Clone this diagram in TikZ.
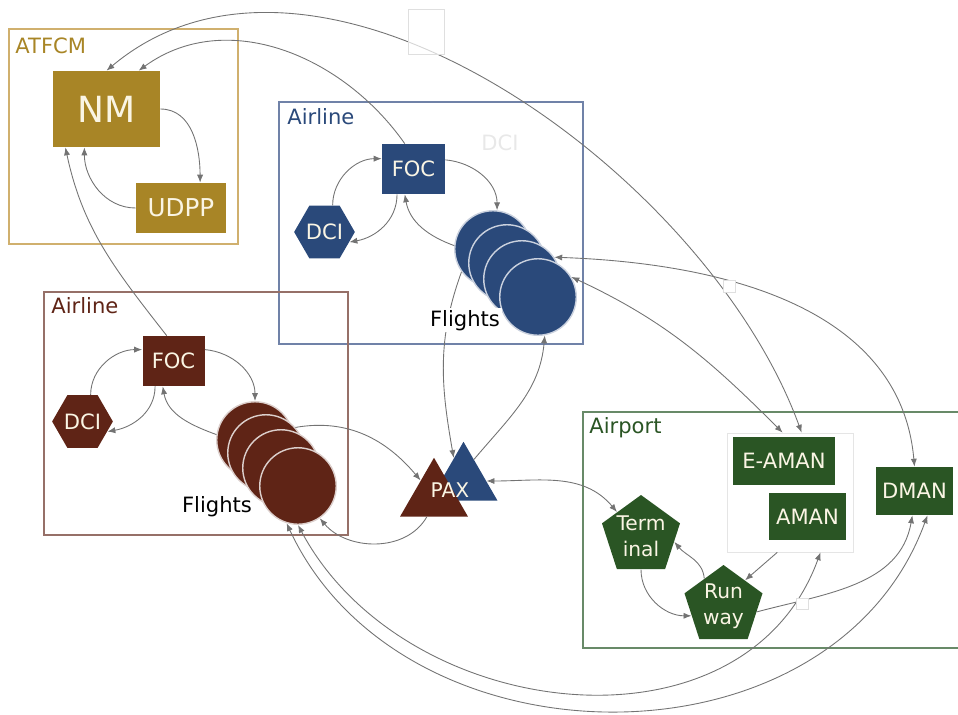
\documentclass[tikz,border=0pt]{standalone}
\usepackage{fontspec}
\setmainfont{DejaVu Sans}
\usepackage{tikz}
\usetikzlibrary{arrows.meta,shapes.geometric}
\definecolor{gold}{RGB}{168,133,38}
\definecolor{goldline}{RGB}{208,176,110}
\definecolor{navy}{RGB}{42,73,122}
\definecolor{navyline}{RGB}{112,130,168}
\definecolor{rust}{RGB}{95,36,22}
\definecolor{rustline}{RGB}{150,112,104}
\definecolor{forest}{RGB}{42,85,36}
\definecolor{forestline}{RGB}{104,138,104}
\definecolor{cream}{RGB}{250,245,228}
\tikzset{
  groupbox/.style={line width=0.6pt},
  grouplabel/.style={anchor=base west,inner sep=0pt,font=\fontsize{12}{14}\selectfont},
  unit/.style={rectangle,inner sep=0pt,text=cream,font=\fontsize{12}{14}\selectfont},
  dcihex/.style={regular polygon,regular polygon sides=6,
    minimum size=1.14cm,inner sep=0pt,text=cream,font=\fontsize{12}{14}\selectfont},
  flight/.style={circle,minimum size=1.53cm,inner sep=0pt,line width=0.8pt},
  paxtri/.style={regular polygon,regular polygon sides=3,minimum size=1.57cm,inner sep=0pt},
  apt/.style={regular polygon,regular polygon sides=5,minimum size=1.64cm,inner sep=-4pt,
    fill=forest,text=cream,align=center,font=\fontsize{11.5}{15}\selectfont},
  conn/.style={draw=black!55,line width=0.5pt,-{Latex[length=4.5pt,width=3.5pt]}},
  biconn/.style={conn,{Latex[length=4.5pt,width=3.5pt]}-{Latex[length=4.5pt,width=3.5pt]}},
  tag/.style={draw=gray!25,fill=white,inner sep=0pt}
}

\begin{document}
\begin{tikzpicture}
  \useasboundingbox (0,0) rectangle (19.16,-14.28);

  % groups
  \draw[groupbox,goldline] (0.18,-0.58) rectangle (4.76,-4.88);
  \node[grouplabel,text=gold] (atfcm) at (0.30,-1.06) {ATFCM};
  \draw[groupbox,navyline] (5.58,-2.04) rectangle (11.66,-6.88);
  \node[grouplabel,text=navy] (airlinen) at (5.74,-2.48) {Airline};
  \draw[groupbox,rustline] (0.88,-5.84) rectangle (6.96,-10.70);
  \node[grouplabel,text=rust] (airlineb) at (1.02,-6.26) {Airline};
  \draw[groupbox,forestline] (19.16,-8.24) -- (11.66,-8.24) -- (11.66,-12.96) -- (19.16,-12.96);
  \node[grouplabel,text=forest] (airport) at (11.78,-8.66) {Airport};
  \node[draw=gray!20,fill=white,minimum width=2.52cm,minimum height=2.38cm] (amanbox) at (15.80,-9.85) {};

  % ATFCM
  \node[unit,fill=gold,minimum width=2.14cm,minimum height=1.52cm,font=\fontsize{20.5}{24}\selectfont] (nm) at (2.13,-2.18) {NM};
  \node[unit,fill=gold,minimum width=1.80cm,minimum height=1.00cm,font=\fontsize{14}{16}\selectfont] (udpp) at (3.62,-4.16) {UDPP};

  % airline (blue)
  \node[unit,fill=navy,minimum width=1.26cm,minimum height=1.00cm] (nfoc) at (8.27,-3.38) {FOC};
  \node[dcihex,fill=navy] (ndci) at (6.49,-4.64) {DCI};
  \node[flight,fill=navy,draw=white!75!navy] (nf1) at (9.86,-4.98) {};
  \node[flight,fill=navy,draw=white!75!navy] (nf2) at (10.14,-5.26) {};
  \node[flight,fill=navy,draw=white!75!navy] (nf3) at (10.44,-5.58) {};
  \node[flight,fill=navy,draw=white!75!navy] (nf4) at (10.76,-5.94) {};
  \node[text=gray!18,font=\fontsize{12}{14}\selectfont] (ghost) at (10.00,-2.86) {DCI};

  % airline (brown)
  \node[unit,fill=rust,minimum width=1.24cm,minimum height=1.00cm] (bfoc) at (3.47,-7.22) {FOC};
  \node[dcihex,fill=rust] (bdci) at (1.65,-8.43) {DCI};
  \node[flight,fill=rust,draw=white!78!rust] (bf1) at (5.10,-8.80) {};
  \node[flight,fill=rust,draw=white!78!rust] (bf2) at (5.32,-9.06) {};
  \node[flight,fill=rust,draw=white!78!rust] (bf3) at (5.62,-9.36) {};
  \node[flight,fill=rust,draw=white!78!rust] (bf4) at (5.96,-9.72) {};
  \node[anchor=base,inner sep=0pt,font=\fontsize{12}{14}\selectfont] (bflights) at (4.34,-10.24) {Flights};

  % passengers
  \node[paxtri,fill=navy] (paxn) at (9.27,-9.62) {};
  \node[paxtri,fill=rust] (paxb) at (8.68,-9.94) {};
  \node[text=cream,inner sep=0pt,font=\fontsize{11.5}{14}\selectfont] (pax) at (9.00,-9.80) {PAX};

  % airport
  \node[apt] (term) at (12.82,-10.72) {Term\\inal};
  \node[apt] (runway) at (14.47,-12.12) {Run\\way};
  \node[unit,fill=forest,minimum width=2.04cm,minimum height=0.96cm] (eaman) at (15.68,-9.22) {E-AMAN};
  \node[unit,fill=forest,minimum width=1.54cm,minimum height=0.94cm] (aman) at (16.15,-10.33) {AMAN};
  \node[unit,fill=forest,minimum width=1.54cm,minimum height=0.96cm] (dman) at (18.29,-9.82) {DMAN};

  % connectors
  \draw[conn] (nm.east) to[out=0,in=90] (udpp.53);
  \draw[conn] (udpp.west) to[out=180,in=-90] (nm.240);
  \draw[conn] (bfoc.105) to[out=128,in=-78] (nm.223);
  \draw[conn] (nfoc.109) to[out=125,in=36] (nm.50);
  \draw[biconn] (nm.north) to[out=40,in=110,looseness=0.9] (amanbox.79);

  \draw[conn] (ndci.73) to[out=90,in=180] (nfoc.162);
  \draw[conn] (nfoc.237) to[out=-90,in=10] (ndci.-22);
  \draw[conn] (nfoc.16) to[out=-5,in=90] (nf1.84);
  \draw[conn] (nf1.175) to[out=160,in=-80] (nfoc.251);
  \draw[conn] (nf1.216) to[out=250,in=100] (paxn.113);
  \draw[conn] (paxn.64) to[out=50,in=-95] (nf4.-80);
  \draw[biconn] (nf3.34) to[out=-2,in=95] (dman.north);
  \draw[biconn] (nf4.31) to[out=-25,in=135] (amanbox.97);

  \draw[conn] (bdci.73) to[out=90,in=180] (bfoc.160);
  \draw[conn] (bfoc.234) to[out=-90,in=10] (bdci.-22);
  \draw[conn] (bfoc.20) to[out=-5,in=90] (bf1.north);
  \draw[conn] (bf1.172) to[out=160,in=-80] (bfoc.247);
  \draw[conn] (bf2.41) to[out=10,in=130] (paxb.129);
  \draw[conn] (paxb.250) to[out=-120,in=-50] (bf4.-56);

  \draw[biconn] (paxn.0) to[out=0,in=130] (term.135);
  \draw[conn] (term.south) to[out=-90,in=180] (runway.197);
  \draw[conn] (runway.125) to[out=95,in=-50] (term.-10);
  \draw[conn] (amanbox.258) -- (runway.50);
  \draw[conn] (runway.-10) to[out=15,in=-100] (dman.265);
  \draw[biconn] (bf4.-107) to[out=-65,in=-110,looseness=1.1] (dman.-62);
  \draw[biconn] (bf4.-90) to[out=-62,in=-110,looseness=1.1] (amanbox.-63);

  % labels on top
  \node[anchor=base,fill=white,inner sep=1pt,font=\fontsize{12}{14}\selectfont] (nflights) at (9.30,-6.52) {Flights};
  \node[tag,fill opacity=0.7,minimum width=0.72cm,minimum height=0.90cm] (tagtop) at (8.52,-0.63) {};
  \node[tag,minimum size=0.24cm] (tagmid) at (14.58,-5.72) {};
  \node[tag,minimum size=0.23cm] (taglow) at (16.05,-12.08) {};
\end{tikzpicture}
\end{document}
